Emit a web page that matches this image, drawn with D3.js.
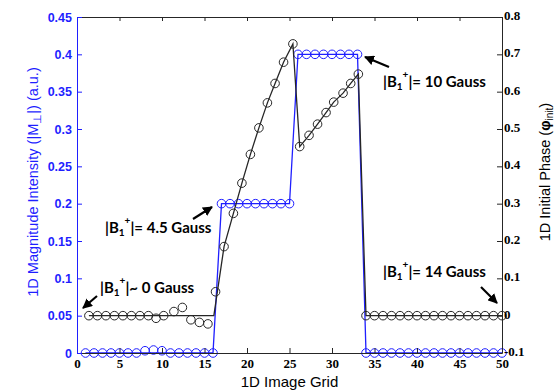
<!DOCTYPE html>
<html>
<head>
<meta charset="utf-8">
<script src="https://cdn.jsdelivr.net/npm/d3@7"></script>
<style>
  body { margin: 0; background: #fff; }
  svg { display: block; }
</style>
</head>
<body>
<div id="chart"></div>
<script>
// grid positions and the two measured series
const gridX = d3.range(1, 51);
const magnitude = [0, 0, 0, 0, 0, 0, 0, 0.003, 0.004, 0.003, 0, 0, 0, 0, 0, 0,
  0.2, 0.2, 0.2, 0.2, 0.2, 0.2, 0.2, 0.2, 0.2,
  0.4, 0.4, 0.4, 0.4, 0.4, 0.4, 0.4, 0.4,
  0, 0, 0, 0, 0, 0, 0, 0, 0, 0, 0, 0, 0, 0, 0, 0, 0];
const magLineX = [1, 16, 17, 25, 26, 33, 34, 50];
const magLine = [0, 0, 0.2, 0.2, 0.4, 0.4, 0, 0];

const phaseX = [1.4, 2.4, 3.4, 4.4, 5.4, 6.4, 7.4, 8.4, 9.3, 10.2, 11.4, 12.4, 13.4, 14.4, 15.4,
  16.3, 17.3, 18.4, 19.4, 20.4, 21.4, 22.4, 23.3, 24.3, 25.4,
  26.2, 27.3, 28.3, 29.3, 30.2, 31.3, 32.2, 33.1,
  34, 35, 36, 37, 38, 39, 40, 41, 42, 43, 44, 45, 46, 47, 48, 49, 50];
const phase = [0, 0, 0, 0, 0, 0, 0, 0, -0.007, 0, 0.011, 0.022, -0.011, -0.018, -0.022,
  0.064, 0.185, 0.274, 0.355, 0.432, 0.503, 0.570, 0.622, 0.679, 0.728,
  0.453, 0.483, 0.513, 0.544, 0.572, 0.596, 0.622, 0.647,
  0, 0, 0, 0, 0, 0, 0, 0, 0, 0, 0, 0, 0, 0, 0, 0, 0];
const phaseLineX = [1.4, 16.1, 17.3, 18.4, 19.4, 20.4, 21.4, 22.4, 23.3, 24.3, 25.4,
  26.2, 27.3, 28.3, 29.3, 30.2, 31.3, 32.2, 33.1, 34, 50];
const phaseLine = [0, 0, 0.185, 0.274, 0.355, 0.432, 0.503, 0.570, 0.622, 0.679, 0.728,
  0.453, 0.483, 0.513, 0.544, 0.572, 0.596, 0.622, 0.647, 0, 0];

const gridTicks = [0, 5, 10, 15, 20, 25, 30, 35, 40, 45, 50];
const magTicks = [0, 0.05, 0.1, 0.15, 0.2, 0.25, 0.3, 0.35, 0.4, 0.45];
const magTickLabels = ['0', '0.05', '0.1', '0.15', '0.2', '0.25', '0.3', '0.35', '0.4', '0.45'];
const phaseTicks = [-0.1, 0, 0.1, 0.2, 0.3, 0.4, 0.5, 0.6, 0.7, 0.8];
const phaseTickLabels = ['-0.1', '0', '0.1', '0.2', '0.3', '0.4', '0.5', '0.6', '0.7', '0.8'];

const notes = [
  { pre: '|B', sub: '1', sup: '+', post: '|~ 0 Gauss' },
  { pre: '|B', sub: '1', sup: '+', post: '|= 4.5 Gauss' },
  { pre: '|B', sub: '1', sup: '+', post: '|= 10 Gauss' },
  { pre: '|B', sub: '1', sup: '+', post: '|= 14 Gauss' }
];

const width = 560, height = 390;
const margin = { top: 17, right: 58, bottom: 37, left: 77 };
const blue = '#1f1fff';
const dark = '#262626';

const svg = d3.select('#chart').append('svg')
  .attr('width', width)
  .attr('height', height);

const x = d3.scaleLinear().domain([0, 50]).range([margin.left, width - margin.right]);
const yL = d3.scaleLinear().domain([0, 0.45]).range([height - margin.bottom, margin.top]);
const yR = d3.scaleLinear().domain([-0.1, 0.8]).range([height - margin.bottom, margin.top]);

// top box edge with mirrored ticks
svg.append('g')
  .attr('transform', `translate(0,${margin.top})`)
  .call(d3.axisTop(x).tickValues(gridTicks).tickSizeInner(-4).tickSizeOuter(0).tickFormat(''))
  .call(g => g.selectAll('line,path').attr('stroke', dark));

// series: magnitude (blue)
const magPath = d3.line().x((d, i) => x(magLineX[i])).y(d => yL(d));
svg.append('path')
  .datum(magLine)
  .attr('fill', 'none')
  .attr('stroke', blue)
  .attr('stroke-width', 1.3)
  .attr('d', magPath);

svg.append('g')
  .selectAll('circle')
  .data(magnitude)
  .join('circle')
  .attr('cx', (d, i) => x(gridX[i]))
  .attr('cy', d => yL(d))
  .attr('r', 4.3)
  .attr('fill', 'none')
  .attr('stroke', blue)
  .attr('stroke-width', 1);

// series: phase (black)
const phasePath = d3.line().x((d, i) => x(phaseLineX[i])).y(d => yR(d));
svg.append('path')
  .datum(phaseLine)
  .attr('fill', 'none')
  .attr('stroke', dark)
  .attr('stroke-width', 1.3)
  .attr('d', phasePath);

svg.append('g')
  .selectAll('circle')
  .data(phase)
  .join('circle')
  .attr('cx', (d, i) => x(phaseX[i]))
  .attr('cy', d => yR(d))
  .attr('r', 4.3)
  .attr('fill', 'none')
  .attr('stroke', dark)
  .attr('stroke-width', 1);

// axes
svg.append('g')
  .attr('transform', `translate(0,${height - margin.bottom})`)
  .call(d3.axisBottom(x).tickValues(gridTicks).tickSizeInner(-5).tickSizeOuter(0).tickPadding(6))
  .call(g => g.selectAll('line,path').attr('stroke', dark))
  .call(g => g.selectAll('text')
    .attr('fill', '#000')
    .style('font', 'bold 13px "Liberation Serif", serif'));

svg.append('g')
  .attr('transform', `translate(${margin.left},0)`)
  .call(d3.axisLeft(yL).tickValues(magTicks).tickSizeInner(-5).tickSizeOuter(0).tickPadding(5)
    .tickFormat((d, i) => magTickLabels[i]))
  .call(g => g.selectAll('line,path').attr('stroke', blue))
  .call(g => g.selectAll('text')
    .attr('fill', blue)
    .style('font', 'bold 12.5px "Liberation Sans", Arial, sans-serif'));

svg.append('g')
  .attr('transform', `translate(${width - margin.right},0)`)
  .call(d3.axisRight(yR).tickValues(phaseTicks).tickSizeInner(-5).tickSizeOuter(0).tickPadding(2)
    .tickFormat((d, i) => phaseTickLabels[i]))
  .call(g => g.selectAll('line,path').attr('stroke', dark))
  .call(g => g.selectAll('text')
    .attr('fill', '#000')
    .attr('dy', '0.2em')
    .style('font', 'bold 13px "Liberation Serif", serif'));

// axis titles
svg.append('text')
  .attr('x', (margin.left + width - margin.right) / 2)
  .attr('y', 387)
  .attr('text-anchor', 'middle')
  .style('font', '15px "Liberation Sans", Arial, sans-serif')
  .text('1D Image Grid');

const leftTitle = svg.append('text')
  .attr('transform', 'translate(38,182) rotate(-90)')
  .attr('text-anchor', 'middle')
  .attr('fill', blue)
  .style('font', '14.5px "Liberation Sans", Arial, sans-serif');
leftTitle.append('tspan').text('1D Magnitude Intensity (|M');
leftTitle.append('tspan').attr('baseline-shift', '-25%').style('font-size', '11px').text('\u22A5');
leftTitle.append('tspan').text('|) (a.u.)');

const rightTitle = svg.append('text')
  .attr('transform', 'translate(550,172) rotate(-90)')
  .attr('text-anchor', 'middle')
  .attr('fill', '#000')
  .style('font', '14.5px "Liberation Sans", Arial, sans-serif');
rightTitle.append('tspan').text('1D Initial Phase  (');
rightTitle.append('tspan').style('font-weight', 'bold').text('\u03C6');
rightTitle.append('tspan').attr('baseline-shift', '-25%').style('font-size', '10px').text('init');
rightTitle.append('tspan').text(')');

// annotations
const notePos = [
  { tx: 100, ty: 293, ax1: 97, ay1: 296, ax2: 83, ay2: 308 },
  { tx: 105, ty: 233, ax1: 193, ay1: 219, ax2: 212, ay2: 207 },
  { tx: 383, ty: 87, ax1: 389, ay1: 67, ax2: 365, ay2: 57 },
  { tx: 383, ty: 277, ax1: 481, ay1: 287, ax2: 497, ay2: 303 }
];

svg.append('defs').append('marker')
  .attr('id', 'head')
  .attr('viewBox', '0 0 10 10')
  .attr('refX', 9).attr('refY', 5)
  .attr('markerWidth', 4.5).attr('markerHeight', 4.5)
  .attr('orient', 'auto')
  .append('path')
  .attr('d', 'M0,0L10,5L0,10z')
  .attr('fill', '#000');

notes.forEach((n, i) => {
  const p = notePos[i];
  const t = svg.append('text')
    .attr('x', p.tx).attr('y', p.ty)
    .style('font', 'bold 15px Lato, "Open Sans", sans-serif');
  t.append('tspan').text(n.pre);
  t.append('tspan').attr('baseline-shift', '-25%').style('font-size', '10px').text(n.sub);
  t.append('tspan').attr('dy', -9).style('font-size', '10px').text(n.sup);
  t.append('tspan').attr('dy', 9).text(n.post);

  svg.append('line')
    .attr('x1', p.ax1).attr('y1', p.ay1)
    .attr('x2', p.ax2).attr('y2', p.ay2)
    .attr('stroke', '#000')
    .attr('stroke-width', 2.2)
    .attr('marker-end', 'url(#head)');
});
</script>
</body>
</html>
